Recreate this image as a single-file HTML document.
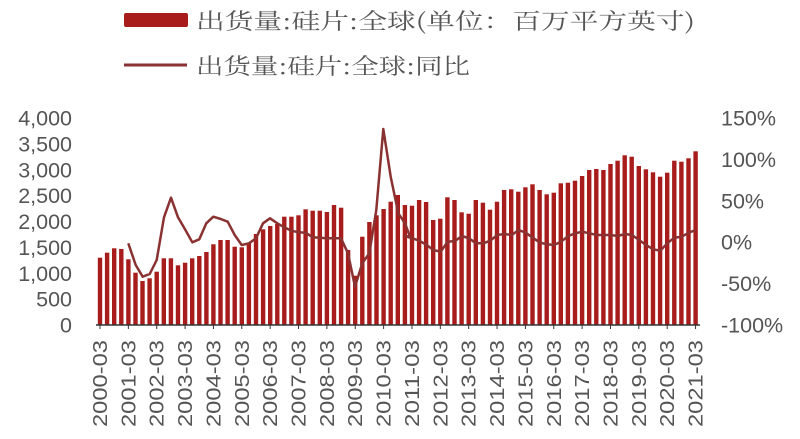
<!DOCTYPE html>
<html><head><meta charset="utf-8"><style>
body{margin:0;background:#fff;width:800px;height:434px;overflow:hidden}
</style></head><body>
<svg id="s" width="800" height="434" xmlns="http://www.w3.org/2000/svg" font-family="'Liberation Sans',sans-serif">
<rect x="124" y="13" width="64" height="14" fill="#a81c1c" rx="2"/>
<text x="196" y="29" font-size="22" fill="#555" textLength="499" lengthAdjust="spacingAndGlyphs" font-family="'Noto Serif CJK SC',serif">出货量:硅片:全球(单位：百万平方英寸)</text>
<line x1="124" y1="65" x2="187" y2="65" stroke="#8a3232" stroke-width="3"/>
<text x="196" y="74" font-size="22" fill="#555" textLength="274" lengthAdjust="spacingAndGlyphs" font-family="'Noto Serif CJK SC',serif">出货量:硅片:全球:同比</text>
<g id="g"></g>
</svg>
<script>
var g=document.getElementById('g'),h='';
var L=[443,428,415,417,448,488,513,505,485,445,445,466,458,445,438,426,403,390,390,410,412,398,372,358,348,342,320,320,316,298,302,302,306,285,293,420,497,380,336,316,297,275,255,285,287,270,276,330,326,262,270,307,311,270,278,299,275,240,238,245,232,223,240,253,248,220,218,212,198,180,177,180,162,152,136,140,168,178,187,200,188,152,155,145,124];
for(var i=0;i<85;i++){var x=100+7.09*i,y=110+L[i]/3;h+='<rect x="'+(x-2.2).toFixed(1)+'" y="'+y.toFixed(1)+'" width="4.4" height="'+(325-y).toFixed(1)+'" fill="#a81c1c"/>';}
h+='<line x1="96" y1="325" x2="700" y2="325" stroke="#333" stroke-width="1.5"/>';
for(var i=0;i<85;i+=4){var x=100+7.09*i;h+='<line x1="'+x+'" y1="325" x2="'+x+'" y2="329" stroke="#333"/>';
h+='<text transform="translate('+(x+7)+',340) rotate(-90)" text-anchor="end" font-size="20" textLength="87" lengthAdjust="spacingAndGlyphs" fill="#555">'+(2000+i/4)+'-03</text>';}
var lv=['0','500','1,000','1,500','2,000','2,500','3,000','3,500','4,000'];
for(var k=0;k<9;k++){var y=325-k*25.875;h+='<text x="72" y="'+(y+7.5)+'" text-anchor="end" font-size="21.5" fill="#555">'+lv[k]+'</text>';}
var rv=['-100%','-50%','0%','50%','100%','150%'];
for(var k=0;k<6;k++){var y=325-k*41.4;h+='<text x="721" y="'+(y+7.5)+'" font-size="21.5" fill="#555">'+rv[k]+'</text>';}
var p1=[[115,400],[137,465],[158,500],[179,492],[200,450],[222,322],[243,263],[264,322],[285,358],[307,397],[328,388],[349,340],[370,320],[392,327],[413,335],[434,375],[455,405],[477,400],[498,385],[519,340],[540,325],[562,340],[583,352],[604,362],[626,367],[647,368],[668,382],[689,383],[710,385],[732,385],[753,385],[774,430],[795,530],[817,460],[838,430],[859,300],[880,57],[902,200],[925,310],[945,340],[960,380]];
var p2=[[15,378],[37,385],[58,392],[80,405],[100,420],[122,425],[143,395],[165,393],[186,378],[207,385],[228,400],[250,400],[271,392],[292,375],[313,372],[335,375],[356,360],[377,368],[398,383],[420,398],[441,403],[462,405],[483,395],[505,378],[526,370],[547,365],[568,370],[590,375],[611,375],[632,375],[653,378],[675,372],[696,375],[717,390],[738,405],[760,418],[781,422],[802,400],[823,383],[845,380],[866,368],[887,360]];
var pts=p1.map(function(p){return (90+p[0]/3).toFixed(1)+','+(110+p[1]/3).toFixed(1)}).concat(p2.map(function(p){return (400+p[0]/3).toFixed(1)+','+(110+p[1]/3).toFixed(1)}));
h+='<polyline points="'+pts.join(' ')+'" fill="none" stroke="#8a3232" stroke-width="2.5" stroke-linejoin="round"/>';
g.innerHTML=h;
</script>
</body></html>
